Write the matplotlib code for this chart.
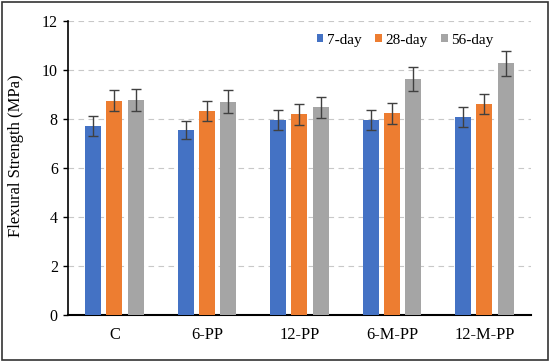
import numpy as np
import matplotlib
matplotlib.use("Agg")
import matplotlib.pyplot as plt
from matplotlib.patches import Rectangle

groups = ["C", "6-PP", "12-PP", "6-M-PP", "12-M-PP"]
series = ["7-day", "28-day", "56-day"]
day7 = [7.7, 7.55, 7.97, 7.97, 8.08]
day28 = [8.74, 8.33, 8.18, 8.22, 8.6]
day56 = [8.77, 8.7, 8.47, 9.62, 10.27]
err7 = [0.4, 0.38, 0.41, 0.41, 0.4]
err28 = [0.43, 0.42, 0.43, 0.44, 0.42]
err56 = [0.44, 0.46, 0.43, 0.5, 0.51]
colors = ["#4472C4", "#ED7D31", "#A5A5A5"]

plt.rcParams["font.family"] = ["Liberation Serif", "DejaVu Serif"]

fig = plt.figure(figsize=(5.5, 3.62), dpi=100)
ax = fig.add_axes([0.124, 0.131, 0.841, 0.811])

x = np.arange(len(groups))
w = 0.173
step = 0.228
for i, (vals, errs) in enumerate(zip([day7, day28, day56], [err7, err28, err56])):
    ax.bar(x + (i - 1) * step, vals, w, color=colors[i], label=series[i], zorder=3)
    ax.errorbar(x + (i - 1) * step, vals, yerr=errs, fmt="none", ecolor="#404040",
                elinewidth=1, capsize=3.5, capthick=1, zorder=4)

ax.set_xlim(-0.5, len(groups) - 0.5)
ax.set_ylim(0, 12)
ax.set_yticks(range(0, 13, 2))
ax.set_xticks(x)
ax.set_xticklabels(groups)
ax.tick_params(axis="x", length=0, pad=9, labelsize=11.8)
ax.tick_params(axis="y", length=3.5, width=1, labelsize=11.5, pad=4)
ax.set_ylabel("Flexural Strength (MPa)", fontsize=12)
ax.yaxis.set_label_coords(-0.095, 0.542)
ax.grid(axis="y", color="#C8C8C8", linestyle=(0, (5, 4)), linewidth=0.8, zorder=0)
for s in ["top", "right"]:
    ax.spines[s].set_visible(False)
ax.spines["left"].set_linewidth(1.2)
ax.spines["bottom"].set_linewidth(1.5)

leg = ax.legend(loc="center right", bbox_to_anchor=(0.92, 0.935), ncol=3, frameon=False,
                fontsize=11, handlelength=0.45, handleheight=0.45, handletextpad=0.25,
                columnspacing=0.85, borderpad=0, borderaxespad=0)

fig.patches.append(Rectangle((0.004, 0.006), 0.992, 0.988, transform=fig.transFigure,
                             fill=False, edgecolor="#333333", linewidth=1.2))

fig.savefig("out.png", dpi=100)
